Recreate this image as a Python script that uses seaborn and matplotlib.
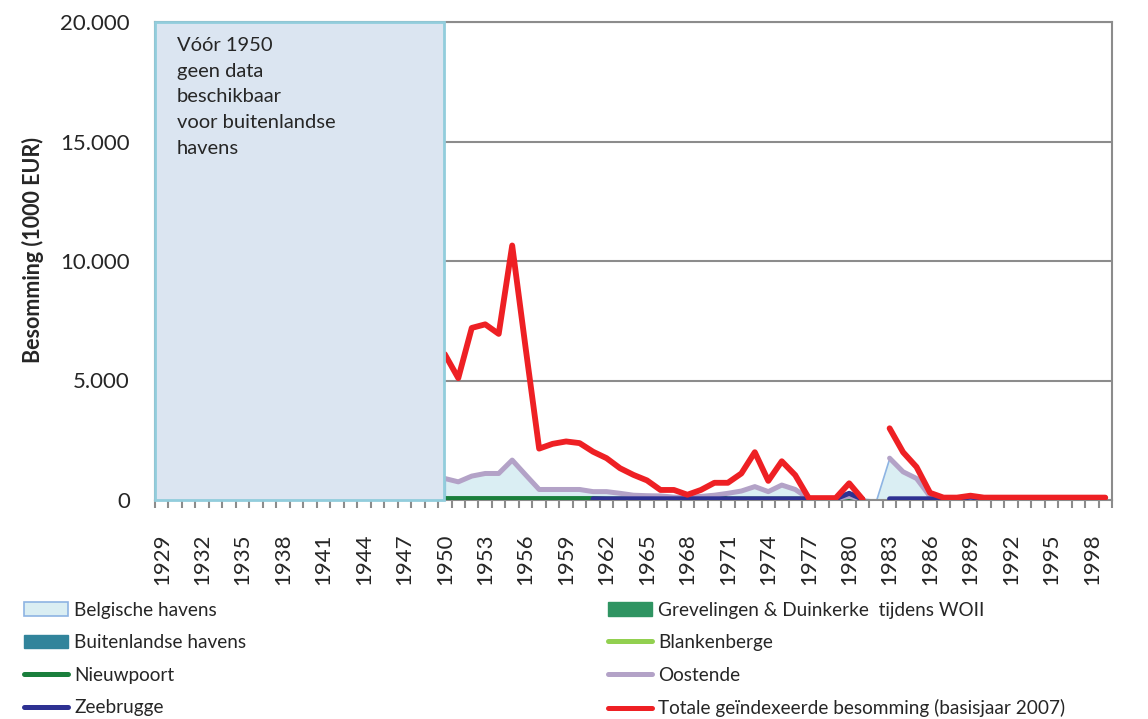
import numpy as np
import pandas as pd
import matplotlib
matplotlib.use("Agg")
import matplotlib.pyplot as plt
import seaborn as sns
from matplotlib.patches import Patch, Rectangle
from matplotlib.lines import Line2D
from matplotlib.ticker import FuncFormatter, FixedLocator

# jaren met data (voor 1950 niets zichtbaar)
jaren = list(range(1950, 2000))

totaal = [6100, 5100, 7200, 7350, 6950, 10650, 6350, 2150, 2350, 2450,
          2380, 2020, 1750, 1330, 1050, 820, 420, 420, 220, 420,
          720, 720, 1110, 2000, 800, 1620, 1040, 80, 80, 80,
          700, 30, np.nan, 3000, 2000, 1380, 300, 100, 100, 180,
          100, 100, 100, 100, 100, 100, 100, 100, 100, 100]

oostende = [900, 760, 1000, 1110, 1110, 1670, 1050, 440, 440, 440,
            440, 350, 350, 280, 200, 180, 170, 120, 100, 150,
            200, 280, 375, 560, 350, 625, 440, 60, 60, 60,
            150, 30, np.nan, 1750, 1180, 900, 150, 60, 60, 60,
            50, 50, 50, 50, 50, 50, 50, 50, 50, 50]

belgisch = [950, 800, 1050, 1150, 1150, 1720, 1100, 500, 500, 500,
            500, 400, 400, 330, 250, 220, 200, 170, 150, 220,
            260, 330, 420, 620, 400, 680, 490, 100, 100, 100,
            300, 60, 0, 1800, 1230, 950, 200, 100, 100, 150,
            80, 80, 80, 80, 80, 80, 80, 80, 80, 80]

nieuwpoort = [60, 60, 60, 60, 60, 60, 60, 60, 60, 60,
              60, 60, 40, 40, 40, 40, 40, 40, 40, 40,
              170, 40, 40, 40, 40, 40, 40, 40, 40, 40,
              40, 40, np.nan, 40, 40, 40, 40, 40, 40, 40,
              40, 40, 40, 40, 40, 40, 40, 40, 40, 40]

zeebrugge = [np.nan] * 11 + [50] * 19 + [280, 30, np.nan] + [50] * 6 + [120, 50] + [np.nan] * 9

blankenberge = [np.nan] * len(jaren)

label_jaren = list(range(1929, 1999, 3))

sns.set_theme(style="white")
plt.rcParams['font.family'] = ['Lato', 'DejaVu Sans']

grijs = '#8c8c8c'


def teken(ax, waarden, kleur, z, dikte=3.6):
    df = pd.DataFrame({'jaar': jaren, 'waarde': waarden})
    df['deel'] = df['waarde'].isna().cumsum()
    df = df.dropna()
    if df.empty:
        return
    sns.lineplot(data=df, x='jaar', y='waarde', units='deel', estimator=None,
                 color=kleur, lw=dikte, ax=ax, zorder=z, legend=False,
                 solid_capstyle='round', solid_joinstyle='round')


fig = plt.figure(figsize=(11.48, 7.19), dpi=100)
ax = fig.add_axes([155 / 1148, 219 / 719, 957 / 1148, 478 / 719])

ax.fill_between(jaren, belgisch, color='#daeef3', edgecolor='#8eb4e3', lw=1.2, zorder=2)
teken(ax, blankenberge, '#92d050', 3)
teken(ax, nieuwpoort, '#1a7f3c', 3)
teken(ax, oostende, '#b3a2c7', 3)
teken(ax, zeebrugge, '#2e3192', 3)
teken(ax, totaal, '#ee2024', 4, dikte=4.2)

# tekstvak voor de jaren zonder data
ax.add_patch(Rectangle((1928.5, 0), 21.45, 20000, facecolor='#dbe5f1',
                       edgecolor='#92cddc', lw=2, zorder=6, clip_on=False))
ax.text(1930.1, 19380, "Vóór 1950\ngeen data\nbeschikbaar\nvoor buitenlandse\nhavens",
        fontsize=14.5, va='top', ha='left', linespacing=1.63, zorder=7)

ax.set_xlim(1928.5, 1999.5)
ax.set_ylim(0, 20000)
ax.set_yticks([0, 5000, 10000, 15000, 20000])
ax.yaxis.set_major_formatter(FuncFormatter(lambda v, p: f"{int(v):,}".replace(",", ".")))
ax.yaxis.grid(True, color=grijs, lw=1.5)
ax.set_axisbelow(True)

ax.xaxis.set_major_locator(FixedLocator(label_jaren))
ax.set_xticklabels([str(j) for j in label_jaren], rotation=90)
ax.xaxis.set_minor_locator(FixedLocator(np.arange(1928.5, 2000, 1)))
ax.tick_params(axis='x', which='major', length=0, pad=24, labelsize=16)
ax.tick_params(axis='x', which='minor', length=6, width=1.5, color=grijs, bottom=True)
ax.tick_params(axis='y', length=0, pad=18, labelsize=16)

for s in ax.spines.values():
    s.set_color(grijs)
    s.set_linewidth(1.5)

ax.set_xlabel("")
ax.set_ylabel("Besomming (1000 EUR)", fontsize=15.5, fontweight='bold')
ax.yaxis.set_label_coords(-0.116, 0.523)

handles = [
    Patch(facecolor='#daeef3', edgecolor='#8eb4e3', lw=1.2),
    Patch(facecolor='#31849b', edgecolor='#31849b'),
    Line2D([], [], color='#1a7f3c', lw=3.6, solid_capstyle='round'),
    Line2D([], [], color='#2e3192', lw=3.6, solid_capstyle='round'),
    Patch(facecolor='#2f9462', edgecolor='#2f9462'),
    Line2D([], [], color='#92d050', lw=3.6, solid_capstyle='round'),
    Line2D([], [], color='#b3a2c7', lw=3.6, solid_capstyle='round'),
    Line2D([], [], color='#ee2024', lw=3.6, solid_capstyle='round'),
]
labels = ["Belgische havens", "Buitenlandse havens", "Nieuwpoort", "Zeebrugge",
          "Grevelingen & Duinkerke  tijdens WOII", "Blankenberge", "Oostende",
          "Totale geïndexeerde besomming (basisjaar 2007)"]
fig.legend(handles, labels, ncol=2, loc='upper left', bbox_to_anchor=(16 / 1148, 1 - 594 / 719),
           frameon=False, fontsize=13.7, handlelength=2.35, handleheight=0.72,
           handletextpad=0.3, labelspacing=0.82, columnspacing=19.0, borderaxespad=0)

fig.savefig("out.png", dpi=100)
